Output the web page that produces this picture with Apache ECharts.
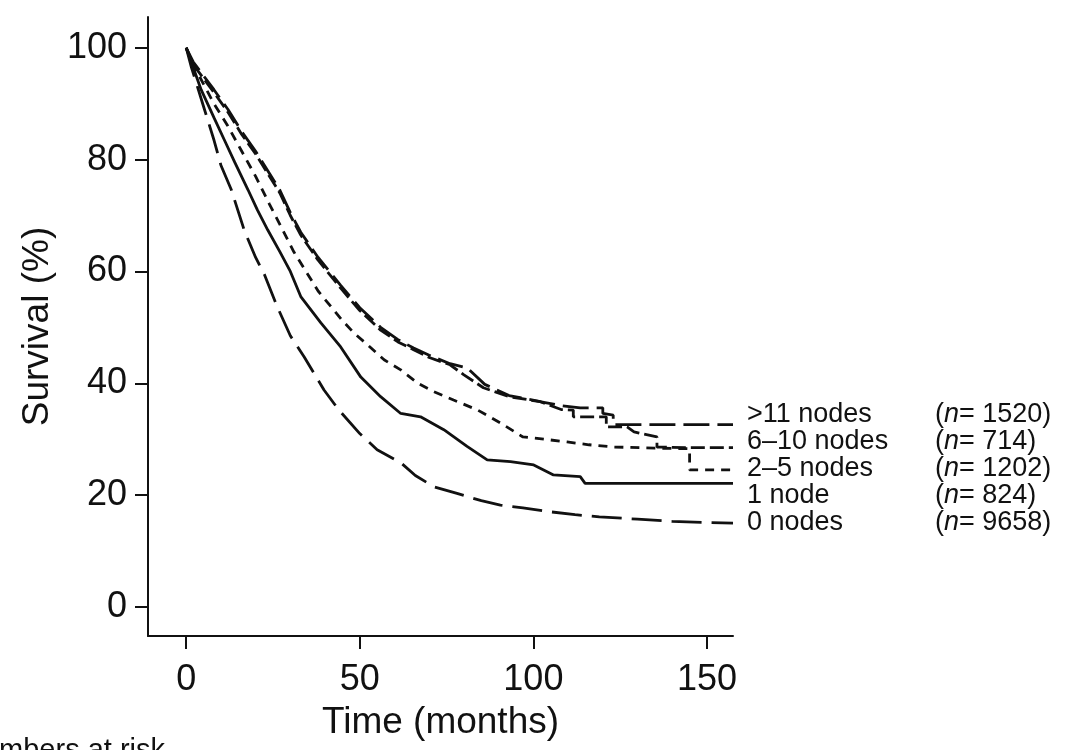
<!DOCTYPE html>
<html>
<head>
<meta charset="utf-8">
<title>Survival by number of nodes</title>
<script src="https://cdn.jsdelivr.net/npm/echarts@6/dist/echarts.min.js"></script>
<style>
  html, body { margin: 0; padding: 0; background: #fff; }
  #chart { width: 1076px; height: 750px; }
</style>
</head>
<body>
<div id="chart"></div>
<script>
// time (months) and survival (%)
// repeated time = vertical drop of the step
const gt11Time = [0, 2, 5, 8, 12, 16, 20, 23, 27, 30, 33, 38, 44.5, 50, 56, 61, 65.5, 70, 76, 81, 86, 93, 103, 108, 113.5, 120, 120, 123, 123, 157.5];
const gt11Surv = [100, 97.5, 95, 92.5, 89, 85, 81.5, 78.5, 74.5, 70.5, 67, 62.5, 57.5, 53.5, 50, 47.8, 46.3, 45, 43.5, 42.7, 39.8, 37.8, 36.6, 36, 35.6, 35.6, 34.6, 34.3, 32.6, 32.6];

const sixTime = [0, 2, 5, 8, 12, 16, 20, 23, 27, 30, 33, 38, 44.5, 50, 56, 61, 65.5, 70, 76, 80, 85.6, 93, 102, 108, 111.5, 111.5, 121, 121, 127, 129, 135.6, 135.6, 144, 157.5];
const sixSurv = [100, 97, 94.5, 92, 88.5, 84.5, 81, 78, 74, 70, 66.5, 62, 57, 53, 49.5, 47.4, 46, 44.6, 43.3, 41.5, 39.2, 37.6, 36.7, 35.3, 35.2, 34, 34, 32.2, 32.2, 31.3, 30.4, 28.6, 28.5, 28.5];

const twoTime = [0, 2, 5, 8, 12, 16, 20, 24, 27.3, 31, 35, 38, 41.7, 45, 48.3, 52, 57, 61.8, 66.7, 71.3, 77, 84, 90.5, 97, 103, 109.7, 116, 123, 135, 145, 145, 157.5];
const twoSurv = [100, 97, 93.5, 90, 86, 81.5, 77, 72, 68, 63.5, 59.5, 56.5, 53.7, 51.2, 49, 47, 44.2, 42.4, 40, 38.5, 37, 35.2, 32.9, 30.4, 30, 29.5, 29, 28.6, 28.4, 28.3, 24.5, 24.5];

const oneTime = [0, 2, 4.3, 8, 11, 14, 17.8, 20.5, 23.5, 27, 30, 33, 38.8, 44.5, 50.3, 56, 61.8, 67.5, 74.2, 80.9, 86.7, 93.4, 100.1, 105.8, 113.5, 114.9, 157.5];
const oneSurv = [100, 96.5, 92.5, 87.5, 83.5, 79.5, 74.6, 71, 67.4, 63.5, 60, 55.5, 50.8, 46.5, 41.1, 37.6, 34.6, 34, 31.7, 28.7, 26.3, 26, 25.4, 23.6, 23.3, 22.1, 22.1];

const zeroTime = [0, 1.5, 3, 5, 8, 10, 13, 16.7, 20, 22.5, 26, 30, 34, 39.7, 44, 50, 55, 61.8, 66, 71.3, 78, 85, 90.5, 97, 105, 112, 119, 130, 140, 150, 157.5];
const zeroSurv = [100, 96.5, 93.5, 89.5, 83.5, 79, 74.6, 67.4, 62.5, 59.5, 54, 48.5, 44.7, 38.8, 35.2, 31, 28.1, 25.8, 23.5, 21.5, 20.3, 19, 18.2, 17.7, 17, 16.5, 16.1, 15.7, 15.3, 15.1, 15];

const groupNames = ['>11 nodes', '6\u201310 nodes', '2\u20135 nodes', '1 node', '0 nodes'];
const groupCounts = [1520, 714, 1202, 824, 9658];
const xTicks = [0, 50, 100, 150];
const yTicks = [0, 20, 40, 60, 80, 100];

const FONT = '"Liberation Sans", Arial, Helvetica, sans-serif';
const INK = '#111';

// dash pattern per group, same order as groupNames
const dashes = [[26, 8], [14, 5], [9, 7], 'solid', [30, 10]];
const curves = [
  [gt11Time, gt11Surv],
  [sixTime, sixSurv],
  [twoTime, twoSurv],
  [oneTime, oneSurv],
  [zeroTime, zeroSurv],
];

function zip(t, s) {
  return t.map((v, i) => [v, s[i]]);
}

const series = curves.map((c, i) => ({
  name: groupNames[i],
  type: 'line',
  data: zip(c[0], c[1]),
  showSymbol: false,
  smooth: false,
  lineStyle: { color: INK, width: 2.8, type: dashes[i] },
  silent: true,
}));

// right-hand labels, one row per curve
const labelTexts = [];
groupNames.forEach((name, i) => {
  const y = 416 + i * 27;
  labelTexts.push({
    type: 'text', left: 747, top: y - 15,
    style: { text: name, font: '27px ' + FONT, fill: INK },
  });
  labelTexts.push({
    type: 'text', left: 935, top: y - 15,
    style: {
      text: '({i|n}= ' + groupCounts[i] + ')',
      font: '27px ' + FONT, fill: INK,
      rich: { i: { fontStyle: 'italic', fontSize: 27, fontFamily: FONT, fill: INK } },
    },
  });
});

const axisCommon = {
  type: 'value',
  axisLine: { show: true, onZero: false, lineStyle: { color: INK, width: 2 } },
  axisTick: { show: true, inside: false, length: 13, lineStyle: { color: INK, width: 2 } },
  splitLine: { show: false },
  nameTextStyle: { color: INK, fontSize: 37, fontFamily: FONT },
};

const chart = echarts.init(document.getElementById('chart'), null, { renderer: 'canvas' });
chart.setOption({
  animation: false,
  backgroundColor: '#fff',
  grid: { left: 148, top: 17, width: 585, height: 619, containLabel: false },
  xAxis: Object.assign({}, axisCommon, {
    min: -11, max: 157.5,
    name: 'Time (months)', nameLocation: 'middle', nameGap: 68,
    axisTick: Object.assign({}, axisCommon.axisTick, { customValues: xTicks }),
    axisLabel: { customValues: xTicks, color: INK, fontSize: 36, fontFamily: FONT, margin: 26 },
  }),
  yAxis: Object.assign({}, axisCommon, {
    min: -5.2, max: 105.5,
    name: 'Survival (%)', nameLocation: 'middle', nameGap: 84, nameRotate: 90,
    axisTick: Object.assign({}, axisCommon.axisTick, { customValues: yTicks }),
    axisLabel: { customValues: yTicks, color: INK, fontSize: 36, fontFamily: FONT, margin: 21 },
  }),
  series: series,
  graphic: labelTexts.concat([
    // cut off at the bottom edge in the original
    { type: 'text', left: -38, top: 736, style: { text: 'Numbers at risk', font: '29px ' + FONT, fill: INK } },
  ]),
});
</script>
</body>
</html>
